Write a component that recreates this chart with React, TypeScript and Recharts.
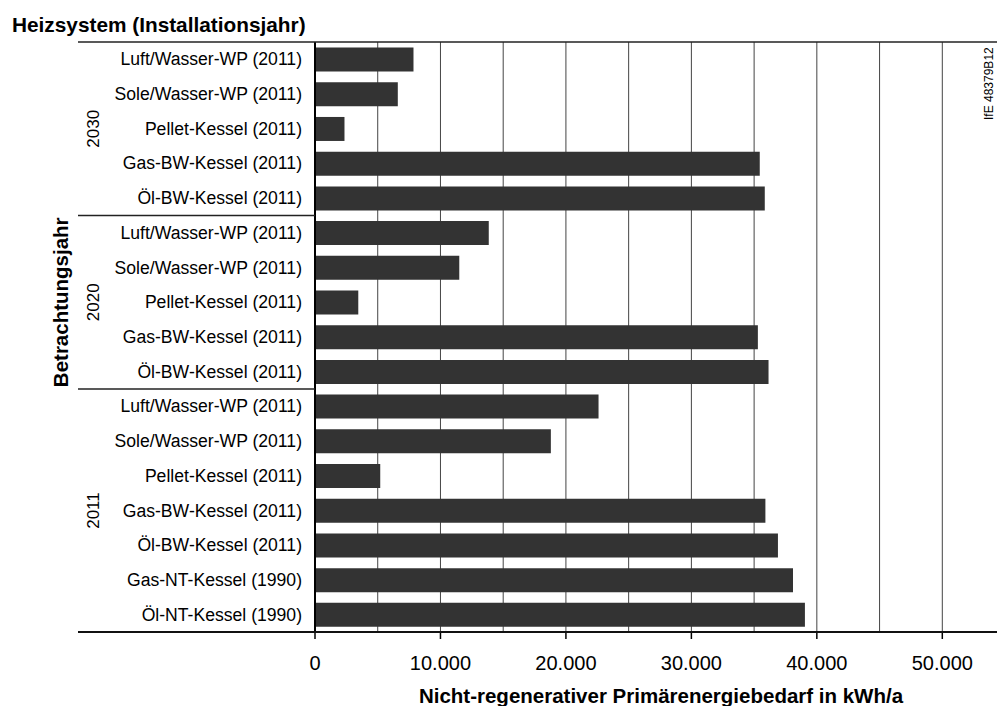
import React from 'react';
import { BarChart, Bar, XAxis, YAxis, CartesianGrid } from 'recharts';

// Heizsysteme je Betrachtungsjahr, von oben nach unten
const heizsysteme = [
  'Luft/Wasser-WP (2011)', 'Sole/Wasser-WP (2011)', 'Pellet-Kessel (2011)', 'Gas-BW-Kessel (2011)', 'Öl-BW-Kessel (2011)',
  'Luft/Wasser-WP (2011)', 'Sole/Wasser-WP (2011)', 'Pellet-Kessel (2011)', 'Gas-BW-Kessel (2011)', 'Öl-BW-Kessel (2011)',
  'Luft/Wasser-WP (2011)', 'Sole/Wasser-WP (2011)', 'Pellet-Kessel (2011)', 'Gas-BW-Kessel (2011)', 'Öl-BW-Kessel (2011)',
  'Gas-NT-Kessel (1990)', 'Öl-NT-Kessel (1990)',
];
// kWh/a
const primaerenergie = [
  7850, 6600, 2350, 35450, 35850,
  13850, 11500, 3450, 35300, 36150,
  22600, 18800, 5200, 35900, 36900, 38100, 39050,
];
const betrachtungsjahre = ['2030', '2020', '2011'];
const gruppenGroesse = [5, 5, 7];
const xTicks = [0, 5000, 10000, 15000, 20000, 25000, 30000, 35000, 40000, 45000, 50000];
const xMax = 54360;

const W = 997;
const H = 706;
const PLOT_LEFT = 315;
const PLOT_TOP = 42;
const PLOT_BOTTOM = 632;
const ROW_H = (PLOT_BOTTOM - PLOT_TOP) / heizsysteme.length;
const FONT = 'Liberation Sans, Arial, Helvetica, sans-serif';

const data = heizsysteme.map((name, i) => ({ id: `r${i}`, name, value: primaerenergie[i] }));

// Gruppengrenzen aus den Gruppengrößen
const groupStarts: number[] = [];
gruppenGroesse.reduce((acc, n) => { groupStarts.push(acc); return acc + n; }, 0);
const groupMid = groupStarts.map((s, g) => s + Math.floor(gruppenGroesse[g] / 2));
const groupEnds = groupStarts.map((s, g) => s + gruppenGroesse[g] - 1);

const fmt = (v: number) => String(v).replace(/\B(?=(\d{3})+(?!\d))/g, '.');

const YTick = (props: any) => {
  const { x, y, payload } = props;
  const i = payload?.index ?? props.index;
  const g = groupMid.indexOf(i);
  const isSep = groupEnds.indexOf(i) >= 0 && i !== heizsysteme.length - 1;
  return (
    <g>
      <text x={x} y={y} dy={6} textAnchor="end" fill="#000" fontSize={17.6} fontFamily={FONT}>
        {heizsysteme[i]}
      </text>
      {g >= 0 && (
        <text x={99} y={y} textAnchor="middle" fill="#000" fontSize={17} fontFamily={FONT}
          transform={`rotate(-90, 99, ${y})`}>
          {betrachtungsjahre[g]}
        </text>
      )}
      {g === 1 && (
        <text x={68} y={y} textAnchor="middle" fill="#000" fontSize={20.5} fontWeight="bold" fontFamily={FONT}
          transform={`rotate(-90, 68, ${y})`}>
          Betrachtungsjahr
        </text>
      )}
      {i === 0 && <line x1={78} x2={W} y1={y - ROW_H / 2} y2={y - ROW_H / 2} stroke="#222" strokeWidth={1.5} />}
      {isSep && <line x1={78} x2={PLOT_LEFT} y1={y + ROW_H / 2} y2={y + ROW_H / 2} stroke="#222" strokeWidth={1.5} />}
      {i === heizsysteme.length - 1 && (
        <line x1={78} x2={W} y1={y + ROW_H / 2} y2={y + ROW_H / 2} stroke="#111" strokeWidth={2} />
      )}
    </g>
  );
};

const XTick = (props: any) => {
  const { x, payload } = props;
  if (payload.value % 10000 !== 0) return null;
  return (
    <g>
      <line x1={x} x2={x} y1={PLOT_BOTTOM} y2={PLOT_BOTTOM + 7} stroke="#000" strokeWidth={1.5} />
      <text x={x} y={PLOT_BOTTOM + 38} textAnchor="middle" fill="#000" fontSize={20} fontFamily={FONT}>
        {fmt(payload.value)}
      </text>
    </g>
  );
};

const gridX = (args: any) => {
  const scale = args?.xAxis?.scale;
  if (scale && typeof scale === 'function') return xTicks.map((v) => scale(v));
  if (scale && typeof scale.map === 'function') return xTicks.map((v) => scale.map(v));
  return [];
};

const App: React.FC = () => {
  return (
    <div style={{ position: 'absolute', left: 0, top: 0, width: W, height: H, background: '#fff' }}>
      <BarChart
        width={W}
        height={H}
        data={data}
        layout="vertical"
        margin={{ top: PLOT_TOP, right: 0, bottom: H - PLOT_BOTTOM - 50, left: 0 }}
        barCategoryGap="16%"
      >
        <CartesianGrid horizontal={false} stroke="#444" strokeWidth={1} verticalCoordinatesGenerator={gridX} />
        <XAxis
          type="number"
          domain={[0, xMax]}
          ticks={xTicks}
          interval={0}
          height={50}
          axisLine={false}
          tickLine={false}
          tick={<XTick />}
        />
        <YAxis
          type="category"
          dataKey="id"
          width={PLOT_LEFT}
          interval={0}
          tickLine={false}
          tickSize={0}
          tickMargin={13}
          axisLine={{ stroke: '#000', strokeWidth: 2 }}
          tick={<YTick />}
        />
        <Bar dataKey="value" fill="#333333" isAnimationActive={false} />
      </BarChart>
      <svg width={W} height={H} style={{ position: 'absolute', left: 0, top: 0, pointerEvents: 'none' }}>
        <text x={12} y={32} fontSize={20.8} fontWeight="bold" fill="#000" fontFamily={FONT}>
          Heizsystem (Installationsjahr)
        </text>
        <text x={661} y={703} textAnchor="middle" fontSize={20.5} fontWeight="bold" fill="#000" fontFamily={FONT}>
          Nicht-regenerativer Primärenergiebedarf in kWh/a
        </text>
        <text x={993} y={120} fontSize={12} fill="#000" fontFamily={FONT} transform="rotate(-90, 993, 120)">
          IfE 48379B12
        </text>
      </svg>
    </div>
  );
};

export default App;
